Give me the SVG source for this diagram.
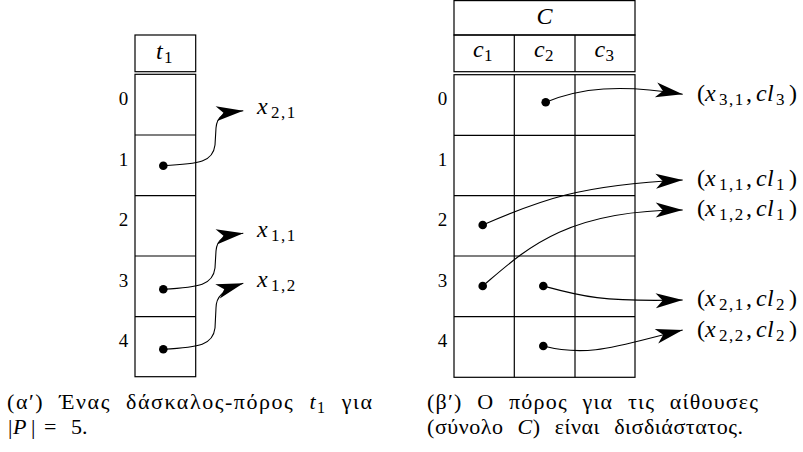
<svg xmlns="http://www.w3.org/2000/svg" width="803" height="452" viewBox="0 0 803 452" font-family="'Liberation Serif', 'DejaVu Serif', 'Times New Roman', serif">
<style>
.ln{fill:none;stroke:#000;stroke-width:1.2}
.cv{fill:none;stroke:#000;stroke-width:1.1}
.dot{fill:#000}
text{font-family:'Liberation Serif','DejaVu Serif','Times New Roman',serif;fill:#000}
.num{font-size:19px;text-anchor:middle}
.m{font-size:24px;font-style:italic}
.up{font-style:normal}
.sub{font-size:17px;font-style:normal}
.cap{font-size:22px;word-spacing:8px}
</style>
<defs>
<marker id="ah" viewBox="-28 -8 29 16" refX="0" refY="0" markerWidth="29" markerHeight="16" markerUnits="userSpaceOnUse" orient="auto">
<path d="M0,0 L-27,-7.5 L-20,0 L-27,7.5 Z" fill="#000"/>
</marker>
</defs>

<g id="table-t1">
<rect class="ln" x="135" y="35" width="60.7" height="36.7"/>
<text class="m" x="156" y="59">t<tspan class="sub" x="164" dy="4">1</tspan></text>
<rect class="ln" x="135" y="74.3" width="60.7" height="302.4"/>
<line class="ln" x1="135" y1="135" x2="195.7" y2="135"/>
<line class="ln" x1="135" y1="195.7" x2="195.7" y2="195.7"/>
<line class="ln" x1="135" y1="256" x2="195.7" y2="256"/>
<line class="ln" x1="135" y1="316.7" x2="195.7" y2="316.7"/>
<text class="num" x="123.5" y="105">0</text>
<text class="num" x="123.5" y="165.5">1</text>
<text class="num" x="123.5" y="226">2</text>
<text class="num" x="123.5" y="286.5">3</text>
<text class="num" x="123.5" y="347">4</text>
<circle class="dot" cx="163.3" cy="165.7" r="4.3"/>
<circle class="dot" cx="163.3" cy="289.3" r="4.3"/>
<circle class="dot" cx="163.3" cy="349.3" r="4.3"/>
</g>

<g id="labels-left">
<text class="m" x="257" y="114">x<tspan class="sub" x="271" dy="4" letter-spacing="1.5">2,1</tspan></text>
<text class="m" x="257" y="237">x<tspan class="sub" x="271" dy="4" letter-spacing="1.5">1,1</tspan></text>
<text class="m" x="257" y="287">x<tspan class="sub" x="271" dy="4" letter-spacing="1.5">1,2</tspan></text>
</g>

<g id="table-C">
<rect class="ln" x="454" y="0.6" width="181" height="34.4"/>
<text class="m" x="544.5" y="24" text-anchor="middle">C</text>
<rect class="ln" x="454" y="35" width="181" height="36.7"/>
<line class="ln" x1="514.3" y1="35" x2="514.3" y2="71.7"/>
<line class="ln" x1="575" y1="35" x2="575" y2="71.7"/>
<text class="m" x="473" y="57">c<tspan class="sub" x="484" dy="4">1</tspan></text>
<text class="m" x="534" y="57">c<tspan class="sub" x="545" dy="4">2</tspan></text>
<text class="m" x="594.5" y="57">c<tspan class="sub" x="605.5" dy="4">3</tspan></text>
<rect class="ln" x="454" y="74.7" width="181" height="302.6"/>
<line class="ln" x1="454" y1="135.3" x2="635" y2="135.3"/>
<line class="ln" x1="454" y1="195.7" x2="635" y2="195.7"/>
<line class="ln" x1="454" y1="256" x2="635" y2="256"/>
<line class="ln" x1="454" y1="316.7" x2="635" y2="316.7"/>
<line class="ln" x1="514.3" y1="74.7" x2="514.3" y2="377.3"/>
<line class="ln" x1="575" y1="74.7" x2="575" y2="377.3"/>
<text class="num" x="442.5" y="105">0</text>
<text class="num" x="442.5" y="165.5">1</text>
<text class="num" x="442.5" y="226">2</text>
<text class="num" x="442.5" y="286.5">3</text>
<text class="num" x="442.5" y="347">4</text>
<circle class="dot" cx="545.7" cy="102.3" r="4.3"/>
<circle class="dot" cx="482.7" cy="225" r="4.3"/>
<circle class="dot" cx="482.7" cy="286" r="4.3"/>
<circle class="dot" cx="543.3" cy="286" r="4.3"/>
<circle class="dot" cx="543.3" cy="346" r="4.3"/>
</g>

<g id="labels-right">
<text class="m" x="697" y="101"><tspan class="up">(</tspan><tspan x="705">x</tspan><tspan class="sub" x="719" dy="4" letter-spacing="1.5">3,1</tspan><tspan class="up" x="746" dy="-4">,</tspan><tspan x="756">c</tspan><tspan x="767">l</tspan><tspan class="sub" x="776" dy="4">3</tspan><tspan class="up" x="789" dy="-4">)</tspan></text>
<text class="m" x="697" y="186"><tspan class="up">(</tspan><tspan x="705">x</tspan><tspan class="sub" x="719" dy="4" letter-spacing="1.5">1,1</tspan><tspan class="up" x="746" dy="-4">,</tspan><tspan x="756">c</tspan><tspan x="767">l</tspan><tspan class="sub" x="776" dy="4">1</tspan><tspan class="up" x="789" dy="-4">)</tspan></text>
<text class="m" x="697" y="216"><tspan class="up">(</tspan><tspan x="705">x</tspan><tspan class="sub" x="719" dy="4" letter-spacing="1.5">1,2</tspan><tspan class="up" x="746" dy="-4">,</tspan><tspan x="756">c</tspan><tspan x="767">l</tspan><tspan class="sub" x="776" dy="4">1</tspan><tspan class="up" x="789" dy="-4">)</tspan></text>
<text class="m" x="697" y="306"><tspan class="up">(</tspan><tspan x="705">x</tspan><tspan class="sub" x="719" dy="4" letter-spacing="1.5">2,1</tspan><tspan class="up" x="746" dy="-4">,</tspan><tspan x="756">c</tspan><tspan x="767">l</tspan><tspan class="sub" x="776" dy="4">2</tspan><tspan class="up" x="789" dy="-4">)</tspan></text>
<text class="m" x="697" y="337"><tspan class="up">(</tspan><tspan x="705">x</tspan><tspan class="sub" x="719" dy="4" letter-spacing="1.5">2,2</tspan><tspan class="up" x="746" dy="-4">,</tspan><tspan x="756">c</tspan><tspan x="767">l</tspan><tspan class="sub" x="776" dy="4">2</tspan><tspan class="up" x="789" dy="-4">)</tspan></text>
</g>

<g id="connectors">
<path class="cv" marker-end="url(#ah)" d="M163.3,165.7 C200,164 213,162 215,145 L216,128 C217,116 222,113 243.3,110.7"/>
<path class="cv" marker-end="url(#ah)" d="M163.3,289.3 C200,287 213,285 215,268 L216,251 C217,239 222,236 243.3,233.3"/>
<path class="cv" marker-end="url(#ah)" d="M163.3,349.3 C200,347 213,345 215,328 L216,308 C216,297 222,290 243.3,283.3"/>
<path class="cv" marker-end="url(#ah)" d="M545.7,102.3 C580,88 620,84 682.7,94.3"/>
<path class="cv" marker-end="url(#ah)" d="M482.7,225 C540,200 580,185 682.7,180"/>
<path class="cv" marker-end="url(#ah)" d="M482.7,286 C525,250 565,210 682.7,210"/>
<path class="cv" marker-end="url(#ah)" d="M543.3,286 C580,296 600,302 682.7,300"/>
<path class="cv" marker-end="url(#ah)" d="M543.3,346 C590,358 620,345 682.7,330"/>
</g>

<g id="captions">
<text class="cap" x="7" y="409" textLength="365">(α′) Ένας δάσκαλος-πόρος <tspan font-style="italic">t</tspan><tspan font-size="16" dy="4" word-spacing="0">1</tspan><tspan dy="-4"> για</tspan></text>
<text class="cap" x="8" y="434"><tspan>|</tspan><tspan x="13" font-style="italic">P</tspan><tspan x="31">|</tspan><tspan x="44">=</tspan><tspan x="71">5.</tspan></text>
<text class="cap" x="427" y="409" textLength="331">(β′) Ο πόρος για τις αίθουσες</text>
<text class="cap" x="427" y="434" textLength="316">(σύνολο <tspan font-style="italic">C</tspan>) είναι δισδιάστατος.</text>
</g>
</svg>
